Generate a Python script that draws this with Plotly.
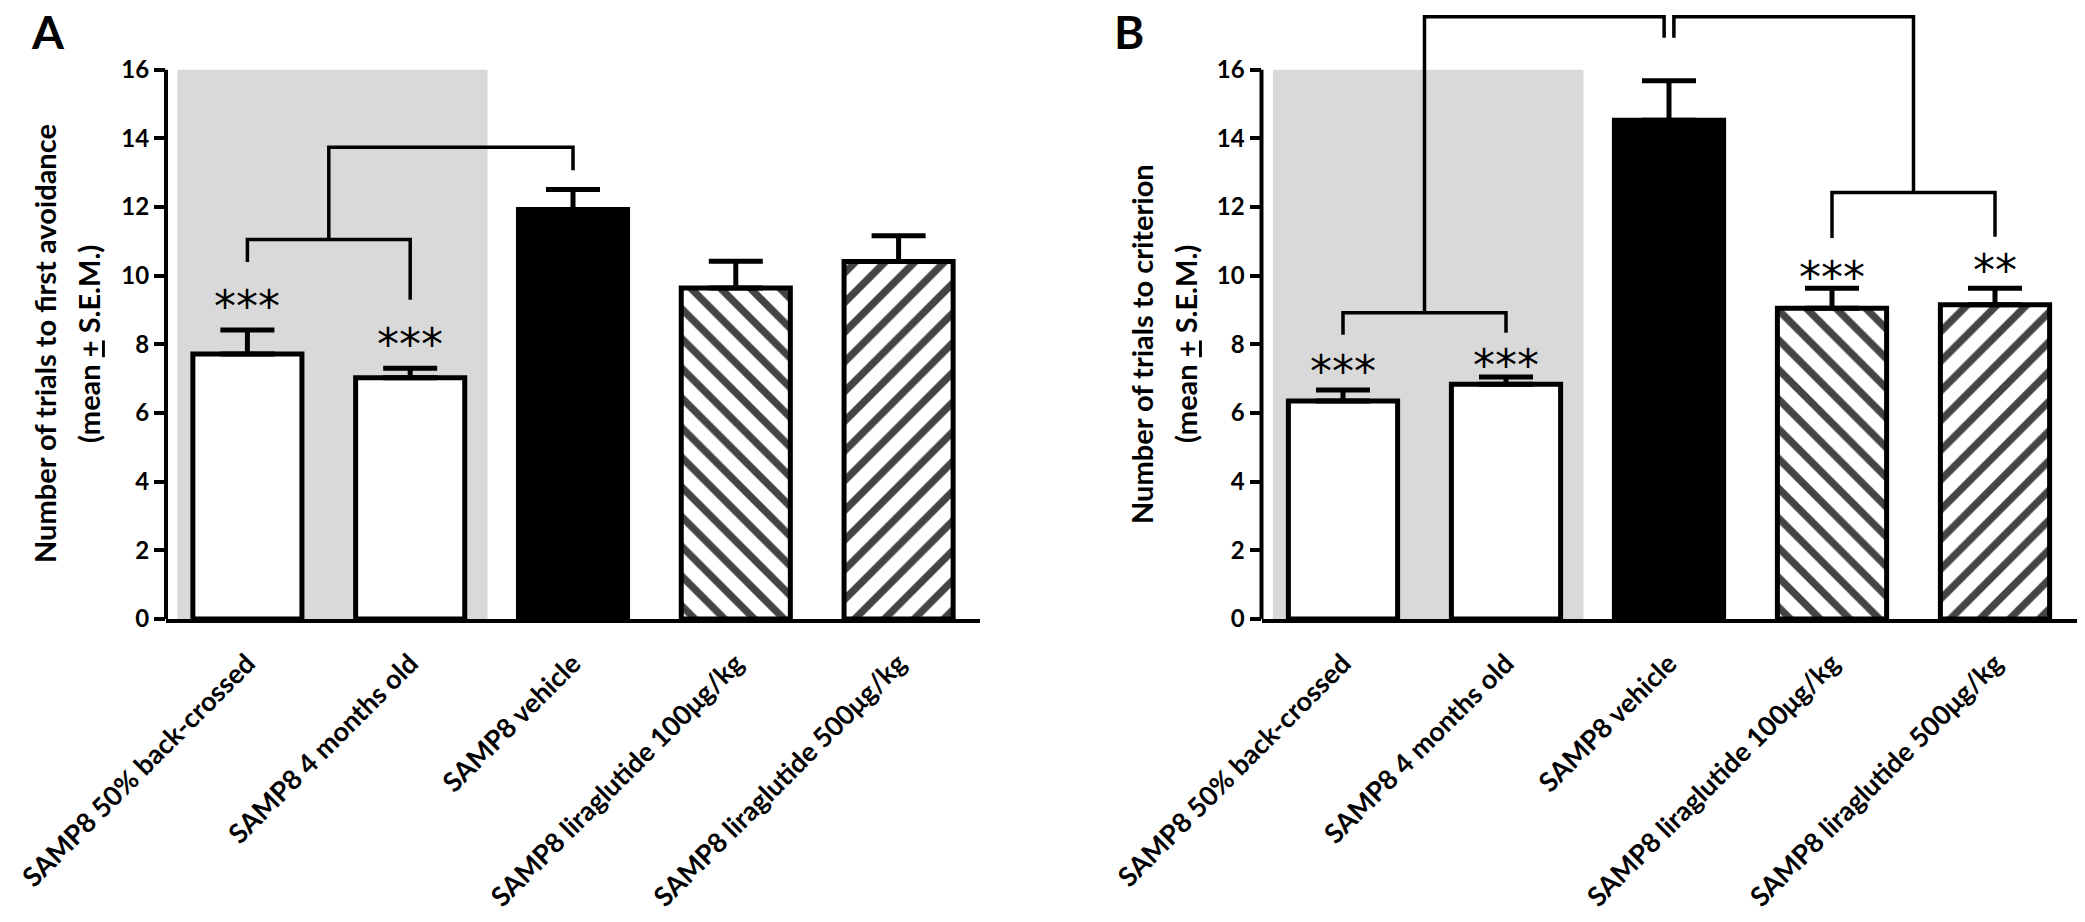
import plotly.graph_objects as go

categories = ["SAMP8 50% back-crossed", "SAMP8 4 months old", "SAMP8 vehicle",
              "SAMP8 liraglutide 100μg/kg", "SAMP8 liraglutide 500μg/kg"]
mean_a = [7.72, 7.03, 11.93, 9.64, 10.41]
sem_a = [0.70, 0.27, 0.58, 0.78, 0.75]
mean_b = [6.35, 6.84, 14.53, 9.05, 9.15]
sem_b = [0.32, 0.21, 1.15, 0.58, 0.48]
fills = ["white", "white", "black", "white", "white"]
patterns = ["", "", "", "\\", "/"]
stars_a = ["***", "***", "", "", ""]
stars_a_y = [9.4, 8.3, None, None, None]
stars_b = ["***", "***", "", "***", "**"]
stars_b_y = [7.5, 7.68, None, 10.23, 10.43]
yticks = [0, 2, 4, 6, 8, 10, 12, 14, 16]
title_a = ["Number of trials to first avoidance", "(mean <u>+</u> S.E.M.)"]
title_b = ["Number of trials to criterion", "(mean <u>+</u> S.E.M.)"]

# significance brackets (x in category index, y in data units)
brackets_a = [
    ([0, 0, 1, 1], [10.4, 11.05, 11.05, 9.3]),
    ([0.5, 0.5, 2, 2], [11.05, 13.74, 13.74, 13.07]),
]
brackets_b = [
    ([0, 0, 1, 1], [8.28, 8.92, 8.92, 8.34]),
    ([0.5, 0.5, 1.97, 1.97], [8.92, 17.54, 17.54, 16.93]),
    ([2.03, 2.03, 3.5, 3.5], [16.93, 17.54, 17.54, 12.42]),
    ([3, 3, 4, 4], [11.1, 12.42, 12.42, 11.13]),
]

W, H = 2085, 922
FONT = "Lato"
xs = list(range(len(categories)))

fig = go.Figure()

def add_panel(means, sems, brackets, xa, ya):
    fig.add_trace(go.Bar(
        x=xs, y=means, width=0.67, xaxis=xa, yaxis=ya,
        marker=dict(color=fills, line=dict(color="black", width=5),
                    pattern=dict(shape=patterns, fgcolor="black", bgcolor="white",
                                 fgopacity=1, size=21, solidity=0.35)),
        error_y=dict(type="data", array=sems, arrayminus=[0] * len(sems), symmetric=False,
                     thickness=5, width=27, color="black"),
        showlegend=False, hoverinfo="skip"))
    for bx, by in brackets:
        fig.add_trace(go.Scatter(x=bx, y=by, mode="lines", xaxis=xa, yaxis=ya,
                                 line=dict(color="black", width=3.5),
                                 showlegend=False, hoverinfo="skip"))

add_panel(mean_a, sem_a, brackets_a, "x", "y")
add_panel(mean_b, sem_b, brackets_b, "x2", "y2")

ydom = [(H - 619) / H, (H - 1) / H]
xdom_a = [166 / W, 980 / W]
xdom_b = [1261.5 / W, 2076.5 / W]

def xaxis_cfg(dom):
    return dict(domain=dom, range=[-0.5, 4.5], tickvals=xs, ticktext=categories,
                tickangle=-45, showline=True, linewidth=4, linecolor="black",
                ticks="", showgrid=False, zeroline=False, ticklabelstandoff=14,
                automargin=False,
                tickfont=dict(family=FONT, size=27, color="black", weight="bold"))

def yaxis_cfg(anchor):
    return dict(domain=ydom, range=[0, 18], tickvals=yticks, anchor=anchor,
                ticks="outside", ticklen=11, tickwidth=4, tickcolor="black",
                showline=False, showgrid=False, zeroline=False, automargin=False,
                tickfont=dict(family=FONT, size=24, color="black", weight="bold"))

fig.update_layout(
    width=W, height=H, margin=dict(l=0, r=0, t=0, b=0, autoexpand=False),
    paper_bgcolor="white", plot_bgcolor="white",
    xaxis=dict(anchor="y", **xaxis_cfg(xdom_a)),
    yaxis=yaxis_cfg("x"),
    xaxis2=dict(anchor="y2", **xaxis_cfg(xdom_b)),
    yaxis2=yaxis_cfg("x2"),
    bargap=0.33,
)

shapes = []
for xr, yr in [("x", "y"), ("x2", "y2")]:
    shapes.append(dict(type="rect", xref=xr, yref=yr, x0=-0.43, x1=1.475, y0=0, y1=16,
                       fillcolor="#d9d9d9", line=dict(width=0), layer="below"))
    shapes.append(dict(type="line", xref=xr + " domain", yref=yr, x0=0, x1=0, y0=0, y1=16,
                       line=dict(color="black", width=4)))
fig.update_layout(shapes=shapes)

ann = []
for xr, yr, stars, sy in [("x", "y", stars_a, stars_a_y), ("x2", "y2", stars_b, stars_b_y)]:
    for i, (s, yv) in enumerate(zip(stars, sy)):
        if s:
            ann.append(dict(x=i, y=yv, xref=xr, yref=yr, text=s, showarrow=False,
                            yanchor="middle", yshift=-10,
                            font=dict(family="DejaVu Sans", size=44, color="black")))
# axis titles
for (l1, l2), cx in [(title_a, 44), (title_b, 1141)]:
    ann.append(dict(x=cx / W, y=(H - 344) / H, xref="paper", yref="paper", text=l1,
                    textangle=-90, showarrow=False, xanchor="center", yanchor="middle",
                    font=dict(family=FONT, size=29, color="black", weight="bold")))
    ann.append(dict(x=(cx + 44) / W, y=(H - 344) / H, xref="paper", yref="paper", text=l2,
                    textangle=-90, showarrow=False, xanchor="center", yanchor="middle",
                    font=dict(family=FONT, size=29, color="black", weight="bold")))
# panel letters
for letter, cx in [("A", 48), ("B", 1129)]:
    ann.append(dict(x=cx / W, y=1, xref="paper", yref="paper", text=letter,
                    showarrow=False, xanchor="center", yanchor="top", yshift=-2,
                    font=dict(family=FONT, size=46, color="black", weight="bold")))
fig.update_layout(annotations=ann)

fig.write_html("out.html")
